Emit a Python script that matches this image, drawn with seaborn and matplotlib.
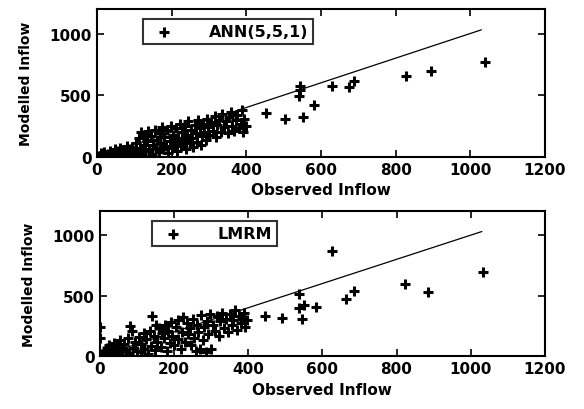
import matplotlib
matplotlib.use("Agg")
import matplotlib.pyplot as plt
import seaborn as sns
import numpy as np

# ANN(5,5,1): observed vs modelled inflow
ann_obs = [5, 10, 12, 18, 20, 25, 30, 35, 40, 42, 48, 50, 55, 60, 62, 68, 70, 75, 80, 82,
           88, 90, 95, 98, 100,
           105, 108, 112, 115, 118, 120, 125, 128, 130, 135, 138, 140, 145, 148, 150,
           155, 158, 160, 165, 168, 170, 175, 178, 180, 185, 188, 190, 195, 198, 200,
           205, 208, 212, 215, 218, 222, 225, 228, 232, 235, 238, 242, 245, 248, 252,
           255, 258, 262, 265, 268, 272, 275, 278, 282, 285, 288, 292, 295, 298, 300,
           305, 310, 315, 318, 322, 328, 332, 336, 340, 345, 350, 355, 358, 362, 368,
           372, 376, 380, 385, 388, 392, 395, 398,
           454, 503, 551, 581, 543, 540, 545, 630, 676, 689, 827, 895, 1040]
ann_mod = [10, 5, 30, 15, 40, 8, 25, 50, 12, 35, 60, 20, 45, 30, 75, 10, 55, 40, 90, 20,
           65, 35, 80, 5, 50,
           110, 30, 150, 70, 200, 15, 95, 180, 45, 130, 210, 60, 165, 25, 100,
           220, 75, 140, 40, 190, 115, 240, 60, 160, 90, 215, 30, 130, 250, 70,
           180, 110, 235, 45, 150, 270, 90, 200, 130, 250, 60, 175, 290, 110, 220,
           150, 80, 260, 190, 120, 300, 230, 95, 165, 270, 205, 140, 310, 240, 180,
           280, 210, 330, 160, 260, 300, 200, 350, 240, 290, 190, 320, 360, 250, 210,
           300, 340, 230, 270, 380, 200, 310, 250,
           359, 310, 327, 424, 571, 490, 540, 571, 563, 612, 653, 694, 767]

# LMRM: observed vs modelled inflow
lmrm_obs = [0, 0, 5, 10, 15, 18, 22, 25, 30, 35, 38, 42, 48, 52, 55, 60, 65, 70, 75, 78,
            82, 87, 90, 95, 100,
            105, 110, 112, 118, 120, 125, 130, 135, 138, 140, 145, 150, 152, 155, 160,
            165, 168, 172, 175, 180, 185, 188, 192, 195, 200,
            205, 210, 212, 218, 222, 225, 230, 235, 238, 242, 245, 250, 255, 258, 262,
            265, 270, 272, 278, 282, 285, 290, 292, 298, 300,
            305, 310, 315, 320, 325, 330, 335, 340, 345, 350, 355, 360, 365, 370, 375,
            380, 383, 388, 392, 396,
            445, 491, 536, 544, 536, 550, 582, 665, 684, 625, 823, 885, 1032]
lmrm_mod = [240, 150, 20, 45, 10, 70, 30, 90, 15, 55, 110, 35, 80, 20, 130, 60, 100, 40, 150, 25,
            246, 211, 70, 120, 45,
            160, 30, 100, 190, 60, 140, 20, 210, 85, 335, 170, 50, 258, 120, 230,
            75, 190, 150, 260, 40, 210, 110, 280, 170, 90,
            240, 140, 300, 60, 200, 320, 120, 270, 180, 230, 90, 310, 150, 40, 260,
            200, 55, 340, 130, 240, 30, 290, 180, 350, 60,
            260, 210, 330, 170, 290, 360, 230, 310, 200, 350, 260, 300, 380, 220, 330,
            270, 325, 360, 240, 300,
            333, 317, 400, 308, 517, 419, 408, 475, 542, 867, 600, 533, 692]

# 1:1 reference line
line_x = [0, 1030]
line_y = [0, 1030]

x_ticks = [0, 200, 400, 600, 800, 1000, 1200]
y_ticks = [0, 500, 1000]

sns.set_theme(style="ticks")
plt.rcParams["font.family"] = ["DejaVu Sans"]
plt.rcParams["font.weight"] = "bold"
plt.rcParams["text.color"] = "black"
plt.rcParams["axes.labelcolor"] = "black"
plt.rcParams["xtick.color"] = "black"
plt.rcParams["ytick.color"] = "black"

fig = plt.figure(figsize=(5.84, 4.10), dpi=100)
ax1 = fig.add_axes([0.166, 0.615, 0.767, 0.361])
ax2 = fig.add_axes([0.171, 0.129, 0.762, 0.354])

panels = [(ax1, ann_obs, ann_mod, "ANN(5,5,1)", 0.085),
          (ax2, lmrm_obs, lmrm_mod, "LMRM", 0.10)]

for ax, obs, mod, label, leg_x in panels:
    sns.lineplot(x=line_x, y=line_y, ax=ax, color="black", lw=0.9, legend=False)
    sns.scatterplot(x=obs, y=mod, ax=ax, marker="+", color="black", s=55,
                    linewidth=2.2, label=label)
    ax.set_xlim(0, 1200)
    ax.set_ylim(0, 1200)
    ax.set_xticks(x_ticks)
    ax.set_yticks(y_ticks)
    ax.tick_params(direction="in", top=True, right=True, length=5, width=1.2,
                   labelsize=11, colors="black")
    for lab in ax.get_xticklabels() + ax.get_yticklabels():
        lab.set_fontweight("bold")
    for sp in ax.spines.values():
        sp.set_linewidth(1.5)
        sp.set_color("black")
    ax.set_xlabel("Observed Inflow", fontsize=11, fontweight="bold", labelpad=4)
    ax.set_ylabel("Modelled Inflow", fontsize=10, fontweight="bold", labelpad=12)
    leg = ax.legend(loc="upper left", bbox_to_anchor=(leg_x, 0.985), fontsize=11.5,
                    frameon=True, fancybox=False, edgecolor="black",
                    handletextpad=1.8, borderpad=0.3, markerscale=1.0)
    leg.get_frame().set_linewidth(1.5)

fig.savefig("out.png", dpi=100)
plt.close(fig)
